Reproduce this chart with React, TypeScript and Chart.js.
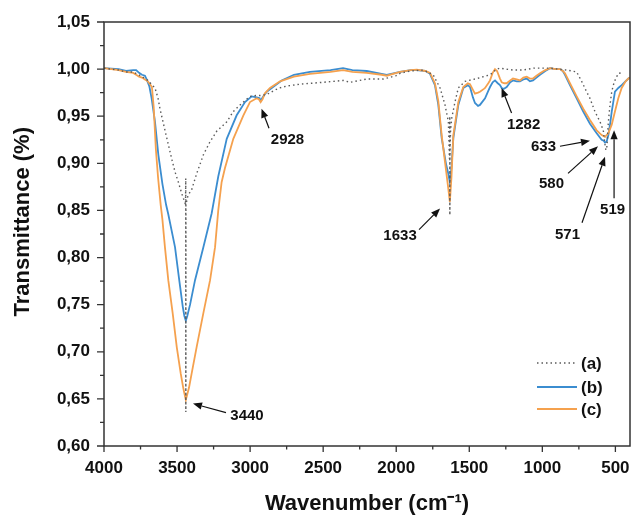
import React, { useEffect, useRef } from 'react';
import { Chart, registerables } from 'chart.js';

Chart.register(...registerables);

// ---------- DATA ----------
const seriesLabels = ['(a)', '(b)', '(c)'];

const waveA = [4000, 3900, 3850, 3800, 3750, 3700, 3651, 3630, 3617, 3596, 3569, 3537, 3514, 3491, 3468, 3450, 3442, 3440.5, 3440, 3439.5, 3425, 3400, 3366, 3320, 3274, 3229, 3160, 3115, 3069, 3001, 2960, 2930, 2886, 2840, 2800, 2750, 2658, 2500, 2362, 2316, 2202, 2088, 2000, 1974, 1906, 1815, 1747, 1700, 1666, 1643, 1636, 1633.5, 1633, 1632.5, 1628, 1620, 1598, 1575, 1529, 1449, 1358, 1312, 1290, 1250, 1201, 1132, 1061, 947, 833, 765, 731, 697, 674, 640, 605, 583, 571, 565, 558, 548, 537, 525, 514, 503, 480, 460];
const transA = [1.001, 0.999, 0.997, 0.997, 0.993, 0.988, 0.98, 0.969, 0.958, 0.944, 0.926, 0.905, 0.891, 0.88, 0.868, 0.86, 0.856, 0.884, 0.636, 0.856, 0.866, 0.872, 0.889, 0.909, 0.923, 0.934, 0.944, 0.955, 0.962, 0.971, 0.972, 0.972, 0.973, 0.977, 0.98, 0.982, 0.984, 0.986, 0.988, 0.986, 0.9895, 0.9895, 0.993, 0.9955, 0.998, 0.999, 0.994, 0.98, 0.962, 0.944, 0.905, 0.95, 0.845, 0.905, 0.935, 0.948, 0.965, 0.98, 0.987, 0.99, 0.994, 1.0, 1.001, 1.0, 0.999, 0.999, 1.001, 1.001, 0.999, 0.997, 0.987, 0.976, 0.969, 0.955, 0.944, 0.935, 0.92, 0.914, 0.918, 0.944, 0.962, 0.976, 0.983, 0.988, 0.9955, 0.996];

const waveB = [4000, 3900, 3850, 3800, 3780, 3760, 3740, 3720, 3708, 3690, 3674, 3651, 3628, 3600, 3575, 3560, 3514, 3485, 3461, 3450, 3440, 3430, 3411, 3377, 3320, 3263, 3218, 3160, 3092, 3035, 2989, 2955, 2935, 2928, 2915, 2886, 2843, 2784, 2700, 2590, 2450, 2364, 2300, 2202, 2100, 2065, 1974, 1900, 1860, 1800, 1769, 1735, 1712, 1689, 1660, 1645, 1633, 1622, 1609, 1575, 1541, 1510, 1495, 1475, 1461, 1440, 1427, 1392, 1370, 1358, 1340, 1324, 1305, 1290, 1278, 1265, 1244, 1220, 1201, 1175, 1153, 1130, 1107, 1085, 1064, 1040, 1016, 980, 947, 910, 879, 860, 845, 811, 765, 720, 674, 628, 594, 580, 571, 560, 548, 535, 525, 503, 480, 457, 411, 400];
const transB = [1.001, 1.0, 0.998, 0.999, 0.999, 0.996, 0.994, 0.993, 0.989, 0.982, 0.969, 0.944, 0.909, 0.878, 0.856, 0.846, 0.811, 0.776, 0.748, 0.738, 0.733, 0.738, 0.75, 0.776, 0.811, 0.847, 0.886, 0.926, 0.951, 0.965, 0.971, 0.97, 0.969, 0.966, 0.97, 0.976, 0.981, 0.988, 0.994, 0.997, 0.999, 1.001, 0.999, 0.998, 0.995, 0.994, 0.997, 0.999, 0.999, 0.998, 0.995, 0.983, 0.962, 0.927, 0.9, 0.89, 0.88, 0.895, 0.927, 0.962, 0.98, 0.983, 0.981, 0.97, 0.964, 0.961, 0.962, 0.969, 0.977, 0.981, 0.986, 0.988, 0.985, 0.983, 0.98, 0.979, 0.981, 0.986, 0.988, 0.987, 0.987, 0.989, 0.99, 0.987, 0.988, 0.991, 0.994, 0.998, 1.001, 1.0, 1.0, 0.998, 0.994, 0.983, 0.969, 0.955, 0.942, 0.932, 0.925, 0.924, 0.922, 0.923, 0.93, 0.943, 0.955, 0.976, 0.98, 0.983, 0.99, 0.991];

const waveC = [4000, 3900, 3850, 3800, 3780, 3760, 3740, 3720, 3700, 3685, 3672, 3660, 3645, 3630, 3612, 3600, 3583, 3560, 3530, 3502, 3475, 3458, 3450, 3440, 3430, 3418, 3400, 3366, 3320, 3274, 3240, 3218, 3195, 3172, 3115, 3046, 3001, 2955, 2940, 2928, 2915, 2900, 2864, 2795, 2700, 2590, 2450, 2364, 2300, 2202, 2100, 2065, 1974, 1900, 1860, 1800, 1769, 1735, 1712, 1689, 1665, 1645, 1633, 1622, 1609, 1575, 1541, 1510, 1495, 1475, 1461, 1440, 1427, 1400, 1392, 1370, 1358, 1340, 1324, 1310, 1290, 1278, 1260, 1244, 1220, 1201, 1175, 1153, 1130, 1107, 1085, 1064, 1040, 1016, 980, 947, 910, 879, 860, 845, 811, 765, 720, 674, 628, 594, 571, 548, 525, 503, 480, 457, 430, 411, 400];
const transC = [1.001, 0.999, 0.997, 0.996, 0.994, 0.992, 0.991, 0.989, 0.987, 0.984, 0.981, 0.96, 0.915, 0.885, 0.856, 0.84, 0.811, 0.776, 0.741, 0.705, 0.677, 0.662, 0.656, 0.649, 0.655, 0.662, 0.677, 0.705, 0.741, 0.776, 0.811, 0.85, 0.88, 0.895, 0.926, 0.951, 0.965, 0.969, 0.968, 0.965, 0.968, 0.974, 0.98, 0.987, 0.992, 0.995, 0.997, 0.999, 0.997, 0.996, 0.994, 0.993, 0.997, 0.999, 0.9995, 0.998, 0.996, 0.985, 0.966, 0.93, 0.9, 0.875, 0.859, 0.885, 0.93, 0.965, 0.981, 0.985, 0.984, 0.978, 0.974, 0.975, 0.976, 0.979, 0.98, 0.985, 0.988, 0.996, 1.0, 0.998, 0.99, 0.986, 0.985, 0.985, 0.988, 0.99, 0.989, 0.988, 0.991, 0.992, 0.99, 0.99, 0.993, 0.9955, 0.999, 1.001, 1.0, 1.0, 0.998, 0.9955, 0.985, 0.971, 0.958, 0.946, 0.935, 0.93, 0.928, 0.932, 0.941, 0.955, 0.969, 0.98, 0.987, 0.99, 0.991];

const xTickValues = [4000, 3500, 3000, 2500, 2000, 1500, 1000, 500];
const xMinorValues = [3750, 3250, 2750, 2250, 1750, 1250, 750];
const yTickValues = [0.6, 0.65, 0.7, 0.75, 0.8, 0.85, 0.9, 0.95, 1.0, 1.05];
const yMinorValues = [0.625, 0.675, 0.725, 0.775, 0.825, 0.875, 0.925, 0.975, 1.025];

// peak annotations: label text and where the arrow points (wavenumber, transmittance)
const peakLabels = ['3440', '2928', '1633', '1282', '633', '580', '571', '519'];
const peakArrowWave = [3391, 2922, 1700, 1279, 674, 619, 571, 509];
const peakArrowTrans = [0.645, 0.958, 0.852, 0.98, 0.924, 0.918, 0.907, 0.935];

// ---------- STYLE / LAYOUT ----------
const FONT = "'Liberation Sans', Arial, sans-serif";
const TEXT = '#111111';
const arrowLayout = [
  { tail: [33, 9], label: [54, 12] },
  { tail: [7.5, 19.5], label: [26, 31.5] },
  { tail: [-21, 21], label: [-40, 27] },
  { tail: [10, 25], label: [22, 37] },
  { tail: [-30, 5.5], label: [-46.5, 6.5] },
  { tail: [-30, 27], label: [-46.5, 37] },
  { tail: [-23, 66], label: [-37.5, 78] },
  { tail: [0, 68], label: [-1.5, 80] },
];

const decor = {
  id: 'decor',
  afterDatasetsDraw(chart: any) {
    const { ctx, chartArea: ca, scales } = chart;
    const xs = scales.x;
    const ys = scales.y;
    ctx.save();
    // frame
    ctx.strokeStyle = '#333333';
    ctx.lineWidth = 1.5;
    ctx.strokeRect(ca.left, ca.top, ca.right - ca.left, ca.bottom - ca.top);
    // ticks
    ctx.lineWidth = 1.3;
    ctx.beginPath();
    xTickValues.forEach((v) => {
      const p = xs.getPixelForValue(v);
      ctx.moveTo(p, ca.bottom);
      ctx.lineTo(p, ca.bottom + 6);
    });
    xMinorValues.forEach((v) => {
      const p = xs.getPixelForValue(v);
      ctx.moveTo(p, ca.bottom);
      ctx.lineTo(p, ca.bottom + 3.5);
    });
    yTickValues.forEach((v) => {
      const p = ys.getPixelForValue(v);
      ctx.moveTo(ca.left, p);
      ctx.lineTo(ca.left - 7, p);
    });
    yMinorValues.forEach((v) => {
      const p = ys.getPixelForValue(v);
      ctx.moveTo(ca.left, p);
      ctx.lineTo(ca.left - 4, p);
    });
    ctx.stroke();

    // legend
    ctx.font = `bold 17px ${FONT}`;
    ctx.textBaseline = 'middle';
    ctx.textAlign = 'left';
    const rowY = [ca.bottom - 83, ca.bottom - 59, ca.bottom - 37];
    chart.data.datasets.forEach((ds: any, i: number) => {
      ctx.save();
      ctx.strokeStyle = ds.borderColor;
      ctx.lineWidth = ds.borderWidth;
      ctx.setLineDash(ds.borderDash || []);
      ctx.beginPath();
      ctx.moveTo(ca.right - 93, rowY[i]);
      ctx.lineTo(ca.right - 53, rowY[i]);
      ctx.stroke();
      ctx.restore();
      ctx.fillStyle = TEXT;
      ctx.fillText(ds.label, ca.right - 49, rowY[i] + 1);
    });

    // peak arrows
    ctx.font = `bold 15px ${FONT}`;
    ctx.textAlign = 'center';
    ctx.strokeStyle = '#111';
    ctx.fillStyle = '#111';
    peakLabels.forEach((txt, i) => {
      const tx = xs.getPixelForValue(peakArrowWave[i]);
      const ty = ys.getPixelForValue(peakArrowTrans[i]);
      const lay = arrowLayout[i];
      const sx = tx + lay.tail[0];
      const sy = ty + lay.tail[1];
      const ang = Math.atan2(ty - sy, tx - sx);
      const hl = 9;
      const hw = 3.6;
      const bx = tx - hl * Math.cos(ang);
      const by = ty - hl * Math.sin(ang);
      ctx.lineWidth = 1.2;
      ctx.beginPath();
      ctx.moveTo(sx, sy);
      ctx.lineTo(bx, by);
      ctx.stroke();
      ctx.beginPath();
      ctx.moveTo(tx, ty);
      ctx.lineTo(bx + hw * Math.sin(ang), by - hw * Math.cos(ang));
      ctx.lineTo(bx - hw * Math.sin(ang), by + hw * Math.cos(ang));
      ctx.closePath();
      ctx.fill();
      ctx.fillText(txt, tx + lay.label[0], ty + lay.label[1]);
    });
    ctx.restore();
  },
};

function toPoints(xs: number[], ys: number[]) {
  return xs.map((x, i) => ({ x, y: ys[i] }));
}

export default function App() {
  const ref = useRef<HTMLCanvasElement | null>(null);
  useEffect(() => {
    if (!ref.current) return;
    const chart = new Chart(ref.current, {
      type: 'line',
      data: {
        datasets: [
          {
            label: seriesLabels[0],
            data: toPoints(waveA, transA),
            borderColor: '#5a5a5a',
            borderWidth: 1.4,
            borderDash: [1.5, 3],
            pointRadius: 0,
            fill: false,
            order: 0,
          },
          {
            label: seriesLabels[1],
            data: toPoints(waveB, transB),
            borderColor: '#3b8dd0',
            borderWidth: 1.8,
            pointRadius: 0,
            fill: false,
            order: 2,
          },
          {
            label: seriesLabels[2],
            data: toPoints(waveC, transC),
            borderColor: '#f5a14e',
            borderWidth: 1.8,
            pointRadius: 0,
            fill: false,
            order: 1,
          },
        ] as any,
      },
      options: {
        animation: false,
        responsive: false,
        devicePixelRatio: 1,
        layout: { padding: { top: 22, right: 1, left: 0, bottom: 0 } },
        plugins: { legend: { display: false }, tooltip: { enabled: false } },
        scales: {
          x: {
            type: 'linear',
            reverse: true,
            min: 400,
            max: 4000,
            afterFit: (s: any) => {
              s.height = 69;
              s.paddingLeft = 0;
              s.paddingRight = 0;
            },
            afterBuildTicks: (s: any) => {
              s.ticks = xTickValues.map((v) => ({ value: v }));
            },
            grid: { display: false, drawTicks: false },
            border: { display: false },
            ticks: {
              padding: 12,
              maxRotation: 0,
              autoSkip: false,
              color: TEXT,
              font: { family: FONT, size: 17, weight: 'bold' },
              callback: (v: any) => String(v),
            },
            title: {
              display: true,
              text: 'Wavenumber (cm⁻¹)',
              color: TEXT,
              font: { family: FONT, size: 22, weight: 'bold', lineHeight: 1 },
              padding: { top: 0, bottom: 0 },
            },
          },
          y: {
            type: 'linear',
            min: 0.6,
            max: 1.05,
            afterFit: (s: any) => {
              s.width = 104;
              s.paddingTop = 0;
              s.paddingBottom = 0;
            },
            afterBuildTicks: (s: any) => {
              s.ticks = yTickValues.map((v) => ({ value: v }));
            },
            grid: { display: false, drawTicks: false },
            border: { display: false },
            ticks: {
              padding: 14,
              autoSkip: false,
              color: TEXT,
              font: { family: FONT, size: 17, weight: 'bold' },
              callback: (v: any) => Number(v).toFixed(2).replace('.', ','),
            },
            title: {
              display: true,
              text: '    Transmittance (%)',
              color: TEXT,
              font: { family: FONT, size: 22, weight: 'bold', lineHeight: 1 },
              padding: { top: 12, bottom: 0 },
            },
          },
        },
      } as any,
      plugins: [decor],
    });
    return () => chart.destroy();
  }, []);
  return (
    <div style={{ position: 'absolute', left: 0, top: 0, width: 631, height: 515, background: '#fff' }}>
      <canvas ref={ref} width={631} height={515} style={{ display: 'block', width: 631, height: 515 }} />
    </div>
  );
}
